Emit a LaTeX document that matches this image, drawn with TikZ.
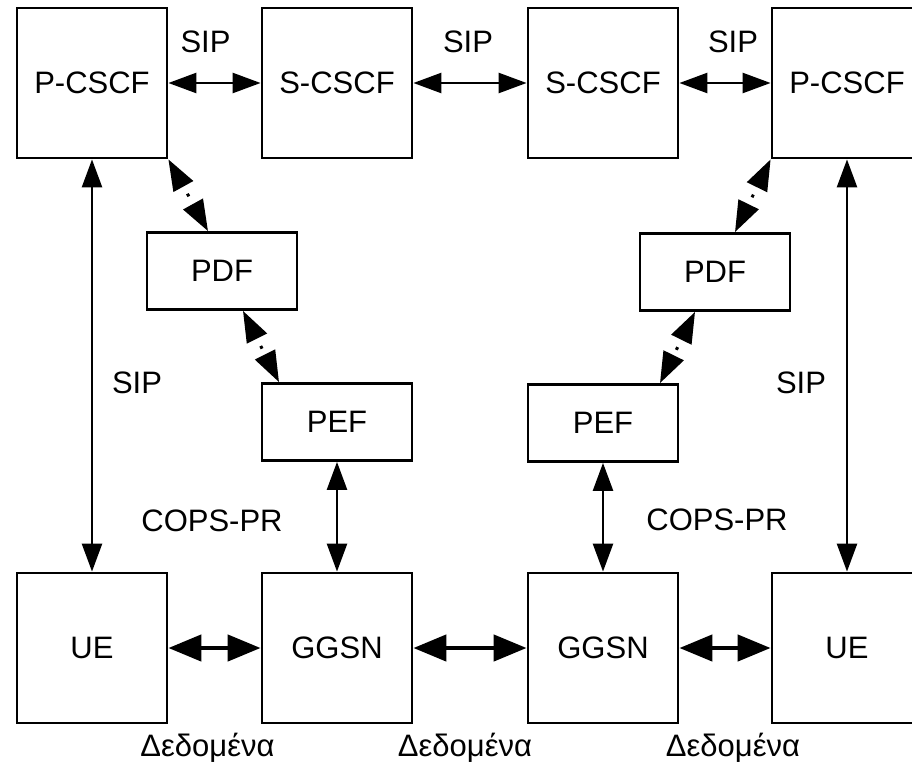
\documentclass[tikz,border=0pt]{standalone}
\usepackage{fontspec}
\setmainfont{Liberation Sans}
\usetikzlibrary{positioning,arrows.meta}

\begin{document}
\begin{tikzpicture}[x=1pt,y=1pt,node distance=245pt,on grid,
    font=\fontsize{31}{37}\selectfont,
    big/.style={draw,line width=2.8pt,minimum width=150pt,minimum height=150pt,inner sep=0pt},
    small/.style={draw,line width=2.8pt,minimum width=150pt,minimum height=77pt,inner sep=0pt},
    lbl/.style={anchor=center,inner sep=0pt},
    sig/.style={{Triangle[length=28pt,width=20pt]}-{Triangle[length=28pt,width=20pt]},line width=2.5pt},
    data/.style={{Triangle[length=33pt,width=26pt]}-{Triangle[length=33pt,width=26pt]},line width=4.5pt},
    pol/.style={{Triangle[length=31pt,width=22pt]}-{Triangle[length=31pt,width=22pt]},line width=3pt,
      dash pattern=on 0pt off 9pt on 3pt off 40pt}]
   \useasboundingbox (0,0) rectangle (912,-778);
   \node[big] (pcscfL) at (92,-83) {P-CSCF};
   \node[big] (scscfL) [right=245pt of pcscfL] {S-CSCF};
   \node[big] (scscfR) [right=266pt of scscfL] {S-CSCF};
   \node[big] (pcscfR) [right=244pt of scscfR] {P-CSCF};
   \node[small] (pdfL) [below right=188pt and 130pt of pcscfL] {PDF};
   \node[small] (pefL) [below=339pt of scscfL] {PEF};
   \node[small] (pdfR) [below left=189pt and 132pt of pcscfR] {PDF};
   \node[small] (pefR) [below=340pt of scscfR] {PEF};
   \node[big] (ueL)   [below=565pt of pcscfL] {UE};
   \node[big] (ggsnL) [below=565pt of scscfL] {GGSN};
   \node[big] (ggsnR) [below=565pt of scscfR] {GGSN};
   \node[big] (ueR)   [below=565pt of pcscfR] {UE};
    % SIP signalling
    \path[sig]
    (pcscfL) edge node[lbl,xshift=-9pt,yshift=41pt] (sipA) {SIP} (scscfL)
    (scscfL) edge node[lbl,xshift=-2pt,yshift=41pt] (sipB) {SIP} (scscfR)
    (scscfR) edge node[lbl,xshift=8pt,yshift=41pt] (sipC) {SIP} (pcscfR)
    (pcscfL) edge node[lbl,xshift=45pt,yshift=-17pt] (sipD) {SIP} (ueL)
    (pcscfR) edge node[lbl,xshift=-46pt,yshift=-17pt] (sipE) {SIP} (ueR)
    (pefL) edge node[lbl,xshift=-125pt,yshift=-4pt] (copsL) {COPS-PR} (ggsnL)
    (pefR) edge node[lbl,xshift=114pt,yshift=-3pt] (copsR) {COPS-PR} (ggsnR);
    % policy
    \path[pol]
    (pcscfL.south east) edge ([xshift=-14pt]pdfL.north)
    ([xshift=21pt]pdfL.south) edge ([xshift=-58pt]pefL.north)
    (pcscfR.south west) edge ([xshift=20pt]pdfR.north)
    ([xshift=-20pt]pdfR.south) edge ([xshift=57pt]pefR.north);
    % user data
    \path[data]
    (ueL) edge node[lbl,xshift=-7pt,yshift=-100pt] (dataA) {Δεδομένα} (ggsnL)
    (ggsnL) edge node[lbl,xshift=-5pt,yshift=-100pt] (dataB) {Δεδομένα} (ggsnR)
    (ggsnR) edge node[lbl,xshift=8pt,yshift=-100pt] (dataC) {Δεδομένα} (ueR);
\end{tikzpicture}
\end{document}
